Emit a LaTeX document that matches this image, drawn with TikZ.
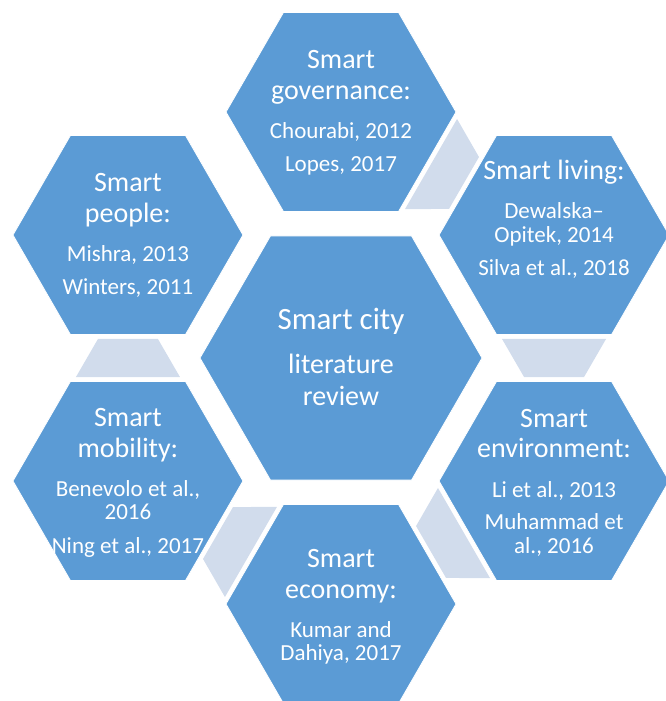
\documentclass[tikz,border=0pt]{standalone}
\usepackage{fontspec}
\setmainfont{Carlito}
\usetikzlibrary{shapes.geometric,calc}
\definecolor{hexblue}{RGB}{91,155,213}
\definecolor{linkblue}{RGB}{209,220,236}

% trapezoid joining two neighbouring outer hexagons:
% the wide side faces the first hexagon, the narrow side the second
\newcommand\hexlink[2]{%
  \fill[link]
    ($(#1.center)!104pt!(#2.center)!52pt!90:(#2.center)$) --
    ($(#1.center)!104pt!(#2.center)!52pt!-90:(#2.center)$) --
    ($(#2.center)!104pt!(#1.center)!30pt!90:(#1.center)$) --
    ($(#2.center)!104pt!(#1.center)!30pt!-90:(#1.center)$) -- cycle;}

\begin{document}
\begin{tikzpicture}[x=1pt,y=1pt,
  hexagon/.style={regular polygon, regular polygon sides=6, fill=hexblue,
    draw=white, line width=0.8pt, inner sep=0pt, outer sep=0pt},
  hub/.style={hexagon, minimum size=282pt},
  petal/.style={hexagon, minimum size=230pt},
  title/.style={anchor=base, text=white, inner sep=0pt,
    font=\fontsize{28}{31}\selectfont},
  bigtitle/.style={anchor=base, text=white, inner sep=0pt,
    font=\fontsize{31}{34}\selectfont},
  cite/.style={anchor=base, text=white, inner sep=0pt,
    font=\fontsize{23}{26}\selectfont},
  link/.style={fill=linkblue}
]
\useasboundingbox (-341,-343) rectangle (325,358);

% hexagons
\node[hub]   (hub)      at (0,0)      {};
\node[petal] (gov)      at (90:246)   {};
\node[petal] (living)   at (30:246)   {};
\node[petal] (env)      at (-30:246)  {};
\node[petal] (econ)     at (-90:246)  {};
\node[petal] (mobility) at (210:246)  {};
\node[petal] (people)   at (150:246)  {};

% links between neighbours
\hexlink{gov}{living}
\hexlink{living}{env}
\hexlink{env}{econ}
\hexlink{econ}{mobility}
\hexlink{mobility}{people}

% centre
\node[bigtitle] (hub-a) at ([yshift=28pt]hub.center)  {Smart city};
\node[title]    (hub-b) at ([yshift=-16pt]hub.center) {literature};
\node[title]    (hub-c) at ([yshift=-47pt]hub.center) {review};

% governance
\node[title] (gov-a) at ([yshift=43pt]gov.center)  {Smart};
\node[title] (gov-b) at ([yshift=12pt]gov.center)  {governance:};
\node[cite]  (gov-c) at ([yshift=-27pt]gov.center) {Chourabi, 2012};
\node[cite]  (gov-d) at ([yshift=-60pt]gov.center) {Lopes, 2017};

% living
\node[title] (living-a) at ([yshift=55pt]living.center)  {Smart living:};
\node[cite]  (living-b) at ([yshift=16pt]living.center)  {Dewalska–};
\node[cite]  (living-c) at ([yshift=-8pt]living.center)  {Opitek, 2014};
\node[cite]  (living-d) at ([yshift=-41pt]living.center) {Silva et al., 2018};

% environment
\node[title] (env-a) at ([yshift=54pt]env.center)  {Smart};
\node[title] (env-b) at ([yshift=24pt]env.center)  {environment:};
\node[cite]  (env-c) at ([yshift=-16pt]env.center) {Li et al., 2013};
\node[cite]  (env-d) at ([yshift=-48pt]env.center) {Muhammad et};
\node[cite]  (env-e) at ([yshift=-72pt]env.center) {al., 2016};

% economy
\node[title] (econ-a) at ([yshift=37pt]econ.center)  {Smart};
\node[title] (econ-b) at ([yshift=6pt]econ.center)   {economy:};
\node[cite]  (econ-c) at ([yshift=-33pt]econ.center) {Kumar and};
\node[cite]  (econ-d) at ([yshift=-56pt]econ.center) {Dahiya, 2017};

% mobility
\node[title] (mobility-a) at ([yshift=55pt]mobility.center)  {Smart};
\node[title] (mobility-b) at ([yshift=24pt]mobility.center)  {mobility:};
\node[cite]  (mobility-c) at ([yshift=-15pt]mobility.center) {Benevolo et al.,};
\node[cite]  (mobility-d) at ([yshift=-38pt]mobility.center) {2016};
\node[cite]  (mobility-e) at ([yshift=-72pt]mobility.center) {Ning et al., 2017};

% people
\node[title] (people-a) at ([yshift=43pt]people.center)  {Smart};
\node[title] (people-b) at ([yshift=12pt]people.center)  {people:};
\node[cite]  (people-c) at ([yshift=-27pt]people.center) {Mishra, 2013};
\node[cite]  (people-d) at ([yshift=-60pt]people.center) {Winters, 2011};
\end{tikzpicture}
\end{document}
